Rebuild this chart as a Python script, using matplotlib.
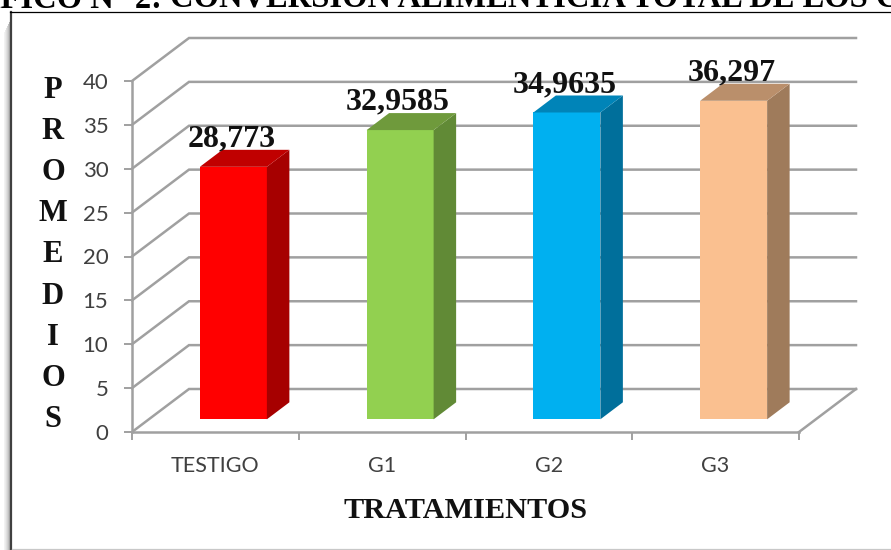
import matplotlib
matplotlib.use('Agg')
import matplotlib.pyplot as plt
from matplotlib.lines import Line2D
from matplotlib.patches import Polygon

# values
categories = ['TESTIGO', 'G1', 'G2', 'G3']
promedios = [28.773, 32.9585, 34.9635, 36.297]
etiquetas = ['28,773', '32,9585', '34,9635', '36,297']
y_ticks = [0, 5, 10, 15, 20, 25, 30, 35, 40]
colores_frente = ['#FF0000', '#92D050', '#00B0F0', '#FAC090']
colores_lado = ['#A60000', '#618A36', '#006F9B', '#9F7B5B']
colores_tapa = ['#C00000', '#6F9A3C', '#0084B8', '#BA8F6B']

W, H = 891, 550
PX_X = 166.75   # pixels per category
PX_Y = 8.775    # pixels per unit of value

# fake 3d offsets, in data units
FONDO_X = 57 / PX_X
FONDO_Y = 43 / PX_Y
BARRA_X = 22.5 / PX_X
BARRA_Y = 17 / PX_Y
BASE_X = 18 / PX_X
BASE_Y = 12.7 / PX_Y
ANCHO = 67 / PX_X
GRIS = '#A0A0A0'
SERIF = 'Liberation Serif'

fig = plt.figure(figsize=(W / 100, H / 100), dpi=100)
ax = fig.add_axes([132 / W, (H - 432) / H, (799 - 132) / W, (432 - 81) / H])
n = len(categories)
ax.set_xlim(0, n)
ax.set_ylim(0, 40)

# walls: slanted line on the left plus the line along the back
for v in y_ticks:
    ax.plot([0, FONDO_X, n + FONDO_X], [v, v + FONDO_Y, v + FONDO_Y],
            color=GRIS, lw=1.8, clip_on=False, zorder=1, solid_joinstyle='miter')
ax.plot([n, n + FONDO_X], [0, FONDO_Y], color=GRIS, lw=1.8, clip_on=False, zorder=1)

# bars
for i, val in enumerate(promedios):
    x0 = i + 0.5 + BASE_X - ANCHO / 2
    x1 = x0 + ANCHO
    top = val + BASE_Y
    ax.bar(x0, val, width=ANCHO, bottom=BASE_Y, align='edge',
           color=colores_frente[i], clip_on=False, zorder=3)
    ax.add_patch(Polygon([(x1, BASE_Y), (x1 + BARRA_X, BASE_Y + BARRA_Y),
                          (x1 + BARRA_X, top + BARRA_Y), (x1, top)],
                         facecolor=colores_lado[i], clip_on=False, zorder=3))
    ax.add_patch(Polygon([(x0, top), (x1, top), (x1 + BARRA_X, top + BARRA_Y),
                          (x0 + BARRA_X, top + BARRA_Y)],
                         facecolor=colores_tapa[i], clip_on=False, zorder=3))
    ax.annotate(etiquetas[i], (i + 0.5 + BASE_X, top + BARRA_Y),
                xytext=(-1.5, 2.5), textcoords='offset points', ha='center', va='baseline',
                fontsize=23, fontweight='bold', family=SERIF, color='#111111', zorder=5)

# axes
for s in ['top', 'right']:
    ax.spines[s].set_visible(False)
for s in ['left', 'bottom']:
    ax.spines[s].set_color(GRIS)
    ax.spines[s].set_linewidth(1.8)
ax.set_yticks(y_ticks)
ax.set_xticks(range(n + 1))
ax.set_xticklabels([])
ax.tick_params(axis='y', length=6, width=1.4, color=GRIS, pad=11,
               labelsize=16, labelcolor='#404040')
ax.tick_params(axis='x', length=6, width=1.4, color=GRIS)
for lab in ax.get_yticklabels():
    lab.set_family('Lato')
for i, c in enumerate(categories):
    ax.annotate(c, (i + 0.5, 0), xytext=(0, -34 * 0.72), textcoords='offset points',
                ha='center', va='center', fontsize=15.5, family='Lato', color='#404040')

# axis titles
fig.text(466 / W, 1 - 510 / H, 'TRATAMIENTOS', ha='center', va='center',
         fontsize=21.8, fontweight='bold', family=SERIF, color='#111111')
fig.text(53 / W, 1 - 255 / H, '\n'.join('PROMEDIOS'), ha='center', va='center',
         fontsize=22, fontweight='bold', family=SERIF, color='#111111', linespacing=1.55)

# heading of the page, cut by the top edge
fig.text(170 / W, 1 - 7.5 / H, 'CONVERSIÓN ALIMENTICIA TOTAL DE LOS C', ha='left', va='baseline',
         fontsize=23.5, fontweight='bold', family=SERIF, color='black')
fig.text(162 / W, 1 - 7.5 / H, 'GRÁFICO N° 2:', ha='right', va='baseline',
         fontsize=23.5, fontweight='bold', family=SERIF, color='black')

# frame of the pasted picture, with its shadow on the left
for k, a in enumerate([0.05, 0.08, 0.12, 0.17, 0.23, 0.3, 0.4]):
    px = 3.5 + k
    fig.add_artist(Line2D([px / W, px / W], [0, 1 - (20 + 2 * (6 - k)) / H],
                          color='black', alpha=a, lw=0.75))
fig.add_artist(Line2D([10.5 / W, 10.5 / W], [0, 1 - 11.5 / H], color='#404040', lw=1.6))
fig.add_artist(Line2D([10 / W, 1], [1 - 11.5 / H, 1 - 11.5 / H], color='black', lw=0.9))
fig.add_artist(Line2D([12 / W, 1], [1 - 549 / H, 1 - 549 / H], color='#C8C8C8', lw=0.9))

fig.savefig('out.png', dpi=100)
